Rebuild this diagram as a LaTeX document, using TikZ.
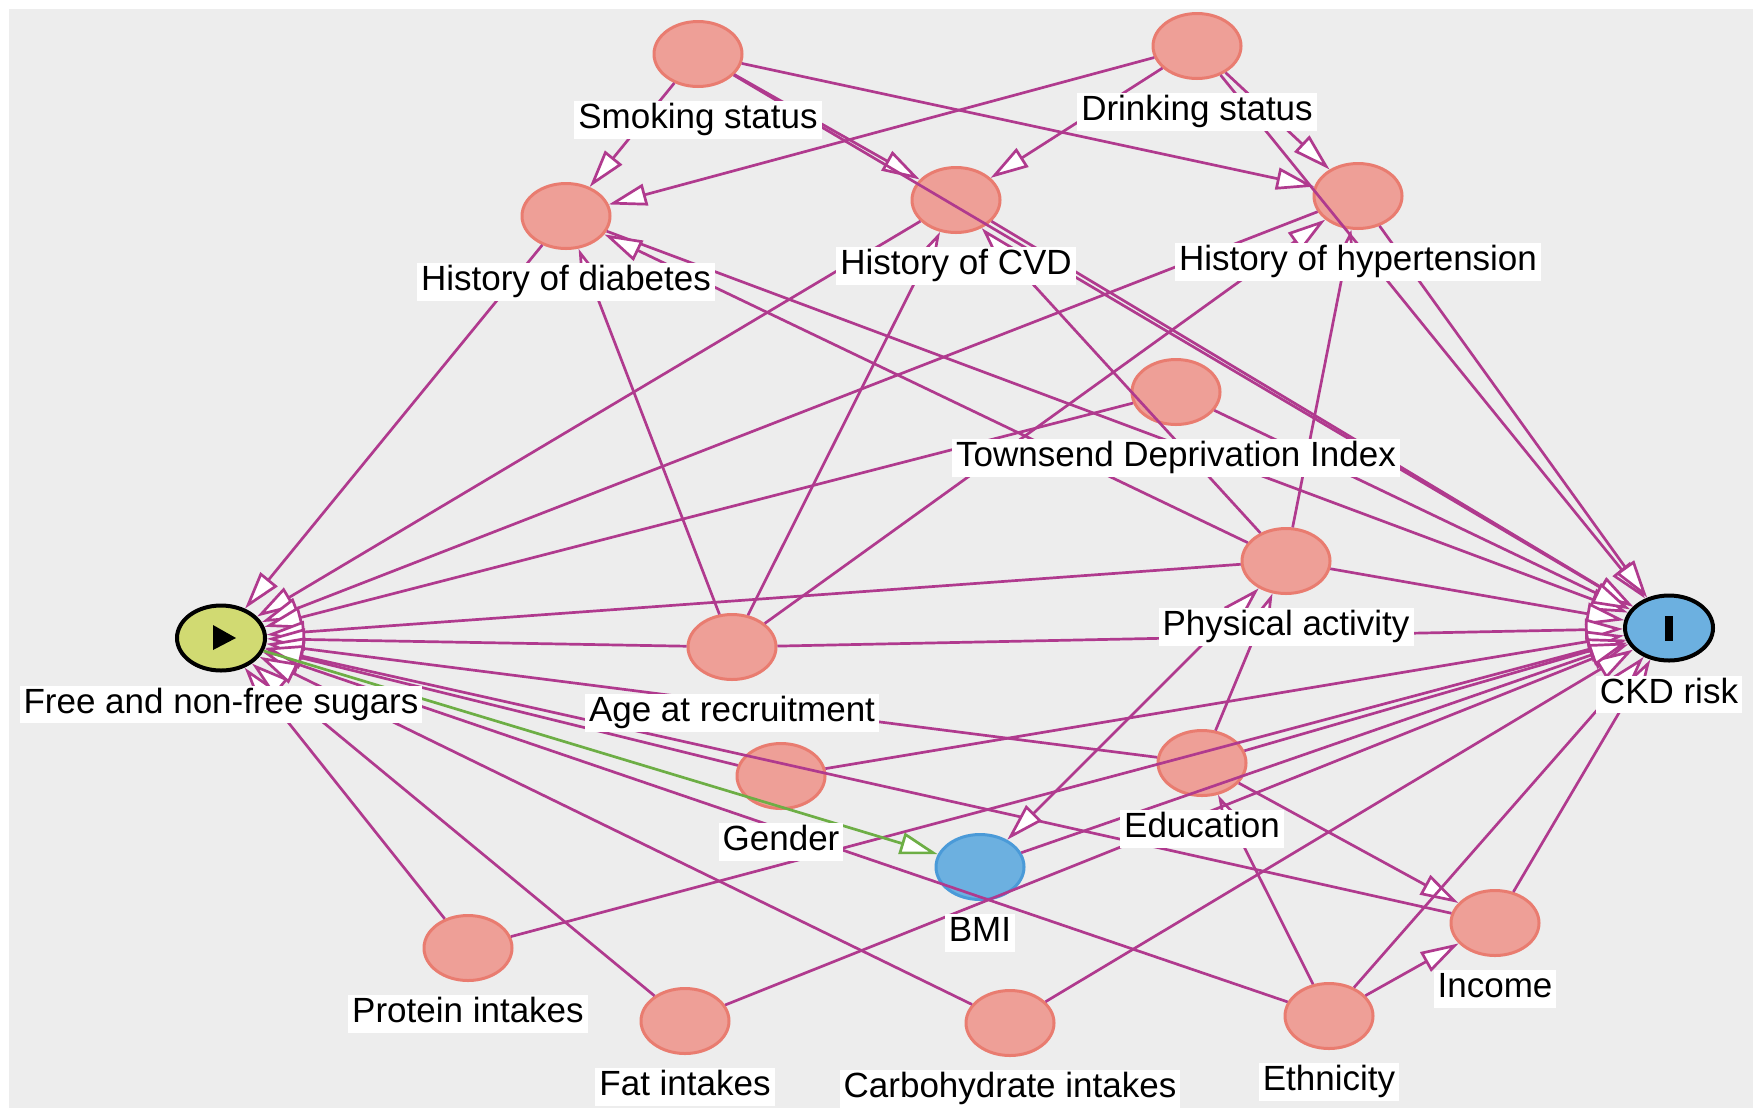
\documentclass[tikz,border=0pt]{standalone}
\usepackage{fontspec}
\setmainfont{Liberation Sans}
\usetikzlibrary{arrows.meta,positioning,calc,shapes.geometric}
\definecolor{bgcol}{HTML}{EDEDED}
\definecolor{pinkfill}{HTML}{EE9F97}
\definecolor{pinkline}{HTML}{E97C70}
\definecolor{bluefill}{HTML}{6CB0E0}
\definecolor{blueline}{HTML}{4A9AD8}
\definecolor{sugarfill}{HTML}{D1DA72}
\definecolor{edgecol}{HTML}{B03A8E}
\definecolor{causal}{HTML}{6DAE45}
\begin{document}
\begin{tikzpicture}[x=0.5pt,y=-0.5pt,
    var/.style={ellipse,minimum width=44pt,minimum height=32.5pt,inner sep=0pt,line width=1.5pt,draw=pinkline,fill=pinkfill},
    expo/.style={var,draw=black,line width=2pt,fill=sugarfill},
    outc/.style={var,draw=black,line width=2pt,fill=bluefill},
    med/.style={var,draw=blueline,fill=bluefill},
    lbl/.style={fill=white,inner xsep=2pt,inner ysep=0.6pt,text height=13.1pt,text depth=4.4pt,font=\fontsize{17.5}{20}\selectfont},
    conn/.style={draw=edgecol,line width=1.35pt,->},
    >={Triangle[length=19pt,width=11pt,fill=white]}]
    \fill[white](0,0)rectangle(1760,1115);
    \useasboundingbox(0,0)rectangle(1760,1115);
    \fill[bgcol](9,9)rectangle(1753,1108);
    \node[var](smoke)at(698,54){};
    \node[var](drink)at(1197,46){};
    \node[var](diab)at(566,216){};
    \node[var](cvd)at(956,200){};
    \node[var](hyp)at(1358,196){};
    \node[var](tdi)at(1176,392){};
    \node[var](pa)at(1286,561){};
    \node[expo](sugar)at(221,638){};
    \node[outc](ckd)at(1669,628){};
    \node[var](age)at(732,647){};
    \node[var](gender)at(781,776){};
    \node[var](edu)at(1202,763){};
    \node[med](bmi)at(980,867){};
    \node[var](income)at(1495,923){};
    \node[var](protein)at(468,948){};
    \node[var](fat)at(685,1021){};
    \node[var](carb)at(1010,1023){};
    \node[var](eth)at(1329,1016){};
    \fill($(sugar)+(-8,-13)$)--($(sugar)+(-8,12)$)--($(sugar)+(15,0)$)--cycle;
    \fill($(ckd)+(-4,-12)$)rectangle($(ckd)+(4,13)$);
    \foreach \a/\b in {smoke/diab,smoke/cvd,smoke/hyp,smoke/ckd,drink/diab,drink/cvd,drink/hyp,drink/ckd,
        diab/sugar,diab/ckd,cvd/sugar,cvd/ckd,hyp/sugar,hyp/ckd,tdi/sugar,tdi/ckd,
        pa/sugar,pa/ckd,pa/diab,pa/cvd,pa/hyp,age/sugar,age/ckd,age/diab,age/cvd,age/hyp,
        gender/sugar,gender/ckd,edu/sugar,edu/ckd,edu/pa,edu/income,eth/sugar,eth/ckd,eth/edu,eth/income,
        income/sugar,income/ckd,protein/sugar,protein/ckd,fat/sugar,fat/ckd,carb/sugar,carb/ckd,bmi/ckd}
        \draw[conn](\a)--(\b);
    \draw[conn,<->](pa)--(bmi);
    \draw[conn,draw=causal](sugar)--(bmi);
    \node[lbl,below=6.5pt of smoke](smokeL){Smoking status};
    \node[lbl,below=6.5pt of drink](drinkL){Drinking status};
    \node[lbl,below=6.5pt of diab](diabL){History of diabetes};
    \node[lbl,below=6.5pt of cvd](cvdL){History of CVD};
    \node[lbl,below=6.5pt of hyp](hypL){History of hypertension};
    \node[lbl,below=6.5pt of tdi](tdiL){Townsend Deprivation Index};
    \node[lbl,below=6.5pt of pa](paL){Physical activity};
    \node[lbl,below=6.5pt of sugar](sugarL){Free and non-free sugars};
    \node[lbl,below=6.5pt of ckd](ckdL){CKD risk};
    \node[lbl,below=6.5pt of age](ageL){Age at recruitment};
    \node[lbl,below=6.5pt of gender](genderL){Gender};
    \node[lbl,below=6.5pt of edu](eduL){Education};
    \node[lbl,below=6.5pt of bmi](bmiL){BMI};
    \node[lbl,below=6.5pt of income](incomeL){Income};
    \node[lbl,below=6.5pt of protein](proteinL){Protein intakes};
    \node[lbl,below=6.5pt of fat](fatL){Fat intakes};
    \node[lbl,below=6.5pt of carb](carbL){Carbohydrate intakes};
    \node[lbl,below=6.5pt of eth](ethL){Ethnicity};
\end{tikzpicture}
\end{document}
